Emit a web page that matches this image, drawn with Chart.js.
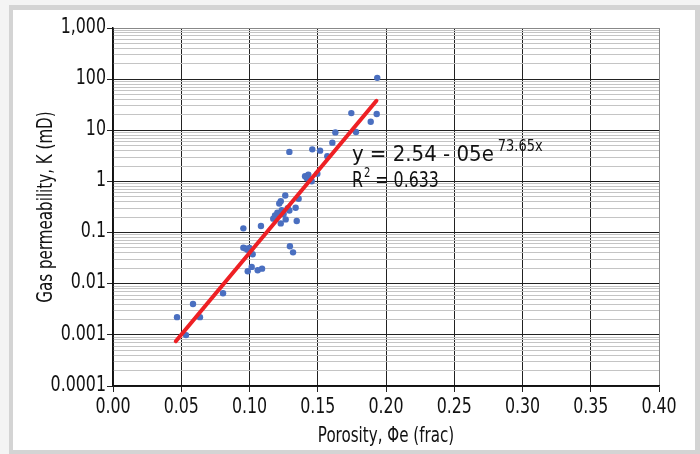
<!DOCTYPE html>
<html>
<head>
<meta charset="utf-8">
<script src="https://cdn.jsdelivr.net/npm/chart.js@4.4.0/dist/chart.umd.min.js"></script>
<style>
  html, body { margin: 0; padding: 0; background: #f4f4f4; width: 700px; height: 454px; overflow: hidden; }
  #frame { position: absolute; left: 9px; top: 5px; width: 691px; height: 449px; background: #d4d4d4; }
  #inner { position: absolute; left: 13px; top: 10px; width: 682px; height: 440px; background: #ffffff; }
  #c { position: absolute; left: 0; top: 0; }
</style>
</head>
<body>
<div id="frame"></div>
<div id="inner"></div>
<canvas id="c" width="700" height="454"></canvas>
<script>
// ---- data ----
const porosity = [0.0469, 0.0535, 0.0586, 0.0637, 0.0806, 0.0955, 0.0955, 0.0970, 0.0985, 0.1000,
  0.1023, 0.1016, 0.0987, 0.1060, 0.1092, 0.1084, 0.1174, 0.1187, 0.1204, 0.1218,
  0.1229, 0.1229, 0.1236, 0.1250, 0.1262, 0.1265, 0.1292, 0.1280, 0.1296, 0.1319,
  0.1338, 0.1346, 0.1360, 0.1292, 0.1407, 0.1431, 0.1420, 0.1456, 0.1497, 0.1460,
  0.1517, 0.1570, 0.1607, 0.1629, 0.1746, 0.1780, 0.1888, 0.1932, 0.1936];
const permeability = [0.00222, 0.00099, 0.0040, 0.00222, 0.0065, 0.121, 0.0507, 0.049, 0.046, 0.050,
  0.0376, 0.0213, 0.0175, 0.0183, 0.0197, 0.134, 0.187, 0.216, 0.244, 0.371,
  0.411, 0.151, 0.275, 0.230, 0.531, 0.181, 0.271, 0.300, 0.054, 0.041,
  0.306, 0.168, 0.457, 3.78, 1.26, 1.36, 1.15, 1.01, 1.41, 4.24,
  4.0, 3.1, 5.73, 9.1, 21.7, 9.25, 14.7, 20.8, 106];
const trendX = [0.046, 0.193];
const trendY = [0.00075, 37.8];
const yMajorValues = [0.0001, 0.001, 0.01, 0.1, 1, 10, 100, 1000];
const yMajorLabels = ['0.0001', '0.001', '0.01', '0.1', '1', '10', '100', '1,000'];
const yMinorMultipliers = [2, 3, 4, 5, 6, 7, 8, 9];
const xTickValues = [0, 0.05, 0.10, 0.15, 0.20, 0.25, 0.30, 0.35, 0.40];
const xTickLabels = ['0.00', '0.05', '0.10', '0.15', '0.20', '0.25', '0.30', '0.35', '0.40'];
const xTitle = 'Porosity, Φe (frac)';
const yTitle = 'Gas permeability, K (mD)';
const equationText = 'y = 2.54 - 05e';
const equationExp = '73.65x';
const r2Value = '0.633';

const FONT = "'DejaVu Sans Condensed', 'DejaVu Sans', sans-serif";
const SX = 0.8; // horizontal compression to mimic a condensed face

const points = porosity.map((x, i) => ({ x: x, y: permeability[i] }));
const trend = trendX.map((x, i) => ({ x: x, y: trendY[i] }));

function narrow(ctx, text, x, y, size, align, baseline, rot, sx) {
  ctx.save();
  ctx.translate(x, y);
  if (rot) ctx.rotate(rot);
  ctx.scale(sx || SX, 1);
  ctx.font = size + 'px ' + FONT;
  ctx.textAlign = align;
  ctx.textBaseline = baseline;
  ctx.fillText(text, 0, 0);
  ctx.restore();
}

const textPlugin = {
  id: 'texts',
  afterDraw(chart) {
    const ctx = chart.ctx;
    const xs = chart.scales.x, ys = chart.scales.y;
    ctx.save();
    ctx.fillStyle = '#111';
    // x tick labels
    xTickValues.forEach((v, i) => {
      narrow(ctx, xTickLabels[i], xs.getPixelForValue(v), ys.bottom + 10, 22, 'center', 'top');
    });
    // y tick labels
    yMajorValues.forEach((v, i) => {
      narrow(ctx, yMajorLabels[i], xs.left - 7, ys.getPixelForValue(v) - 1, 22, 'right', 'middle');
    });
    // axis titles
    narrow(ctx, xTitle, (xs.left + xs.right) / 2, 437, 21, 'center', 'middle');
    narrow(ctx, yTitle, 47, (ys.top + ys.bottom) / 2, 21, 'center', 'middle', -Math.PI / 2);
    // equation
    const x0 = xs.getPixelForValue(0.175);
    const y1 = ys.getPixelForValue(3.3);
    const y2 = ys.getPixelForValue(1.0);
    const s1 = 1.0;
    ctx.font = '22px ' + FONT;
    const w = ctx.measureText(equationText).width * s1;
    narrow(ctx, equationText, x0, y1, 22, 'left', 'middle', 0, s1);
    narrow(ctx, equationExp, x0 + w + 4, y1 - 8, 16, 'left', 'middle', 0, 0.9);
    ctx.font = '22px ' + FONT;
    const wr = ctx.measureText('R').width * SX;
    narrow(ctx, 'R', x0, y2, 22, 'left', 'middle');
    ctx.font = '14px ' + FONT;
    const w2 = ctx.measureText('2').width * SX;
    narrow(ctx, '2', x0 + wr + 1, y2 - 8, 14, 'left', 'middle');
    narrow(ctx, ' = ' + r2Value, x0 + wr + w2 + 1, y2, 22, 'left', 'middle');
    ctx.restore();
  }
};

new Chart(document.getElementById('c'), {
  type: 'scatter',
  data: {
    datasets: [
      {
        type: 'line',
        data: trend,
        borderColor: '#ee2024',
        borderWidth: 4,
        pointRadius: 0,
        fill: false,
        order: 0,
        borderCapStyle: 'round'
      },
      {
        data: points,
        backgroundColor: '#4a6fc0',
        borderColor: '#4a6fc0',
        borderWidth: 0,
        pointRadius: 3.2,
        order: 1
      }
    ]
  },
  options: {
    responsive: false,
    animation: false,
    layout: { padding: { left: 20, top: 28, right: 41, bottom: 6 } },
    plugins: { legend: { display: false }, tooltip: { enabled: false } },
    scales: {
      x: {
        type: 'linear',
        min: 0, max: 0.4,
        afterFit(scale) { scale.height = 62; },
        afterBuildTicks(scale) {
          scale.ticks = xTickValues.map(v => ({ value: v }));
        },
        ticks: {
          display: false,
          autoSkip: false
        },
        grid: {
          color: ctx => (ctx.index === xTickValues.length - 1 ? '#888' : '#222'),
          lineWidth: 1,
          tickLength: 6,
          tickColor: '#222'
        },
        border: { color: '#111', width: 1.5 }
      },
      y: {
        type: 'logarithmic',
        min: 0.0001, max: 1000,
        afterFit(scale) { scale.width = 93; },
        afterBuildTicks(scale) {
          const t = [];
          yMajorValues.forEach((v, i) => {
            t.push({ value: v, major: true });
            if (i < yMajorValues.length - 1) {
              yMinorMultipliers.forEach(m => t.push({ value: v * m, major: false }));
            }
          });
          scale.ticks = t;
        },
        ticks: {
          display: false,
          autoSkip: false
        },
        grid: {
          color: ctx => {
            if (!ctx.tick) return '#c4c4c4';
            if (ctx.tick.major) return ctx.tick.value === 1000 ? '#888' : '#222';
            return '#c4c4c4';
          },
          lineWidth: 1,
          tickLength: 6,
          tickColor: ctx => (ctx.tick && ctx.tick.major ? '#222' : 'rgba(0,0,0,0)')
        },
        border: { color: '#111', width: 1.5 }
      }
    }
  },
  plugins: [textPlugin]
});
</script>
</body>
</html>
